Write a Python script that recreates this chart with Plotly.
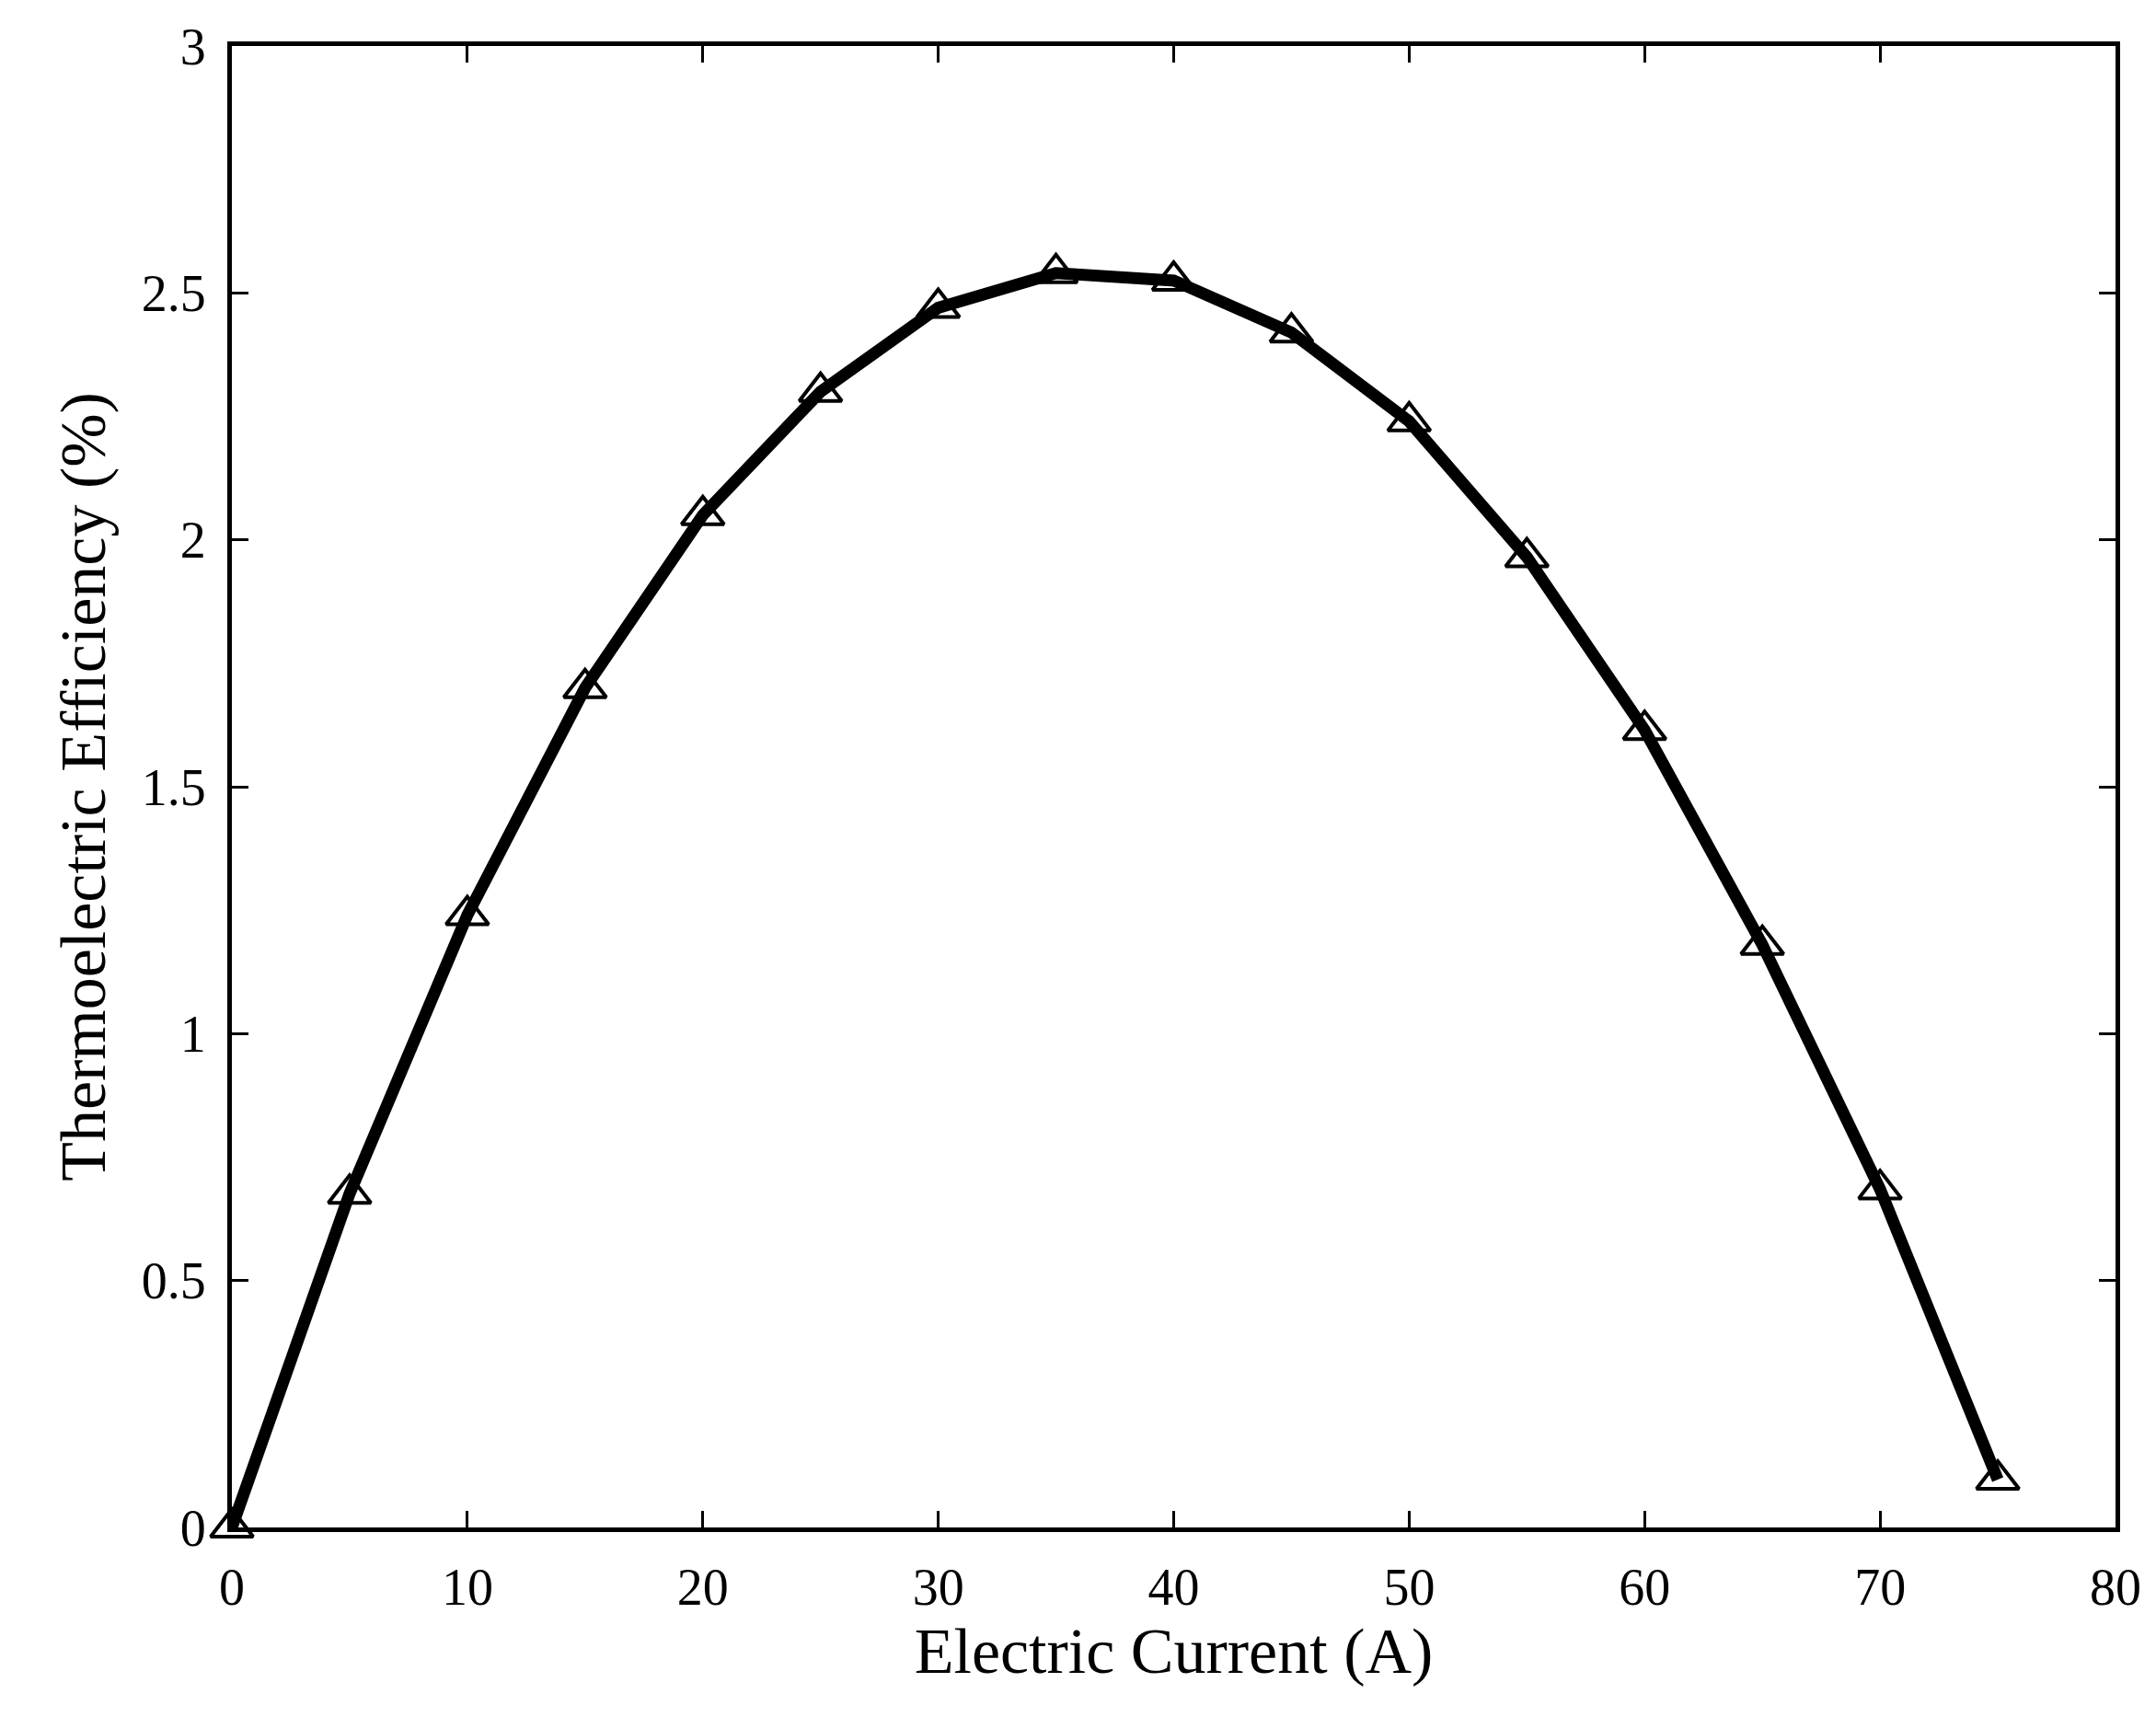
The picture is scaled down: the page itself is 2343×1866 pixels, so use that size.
import plotly.graph_objects as go

current = [0, 5, 10, 15, 20, 25, 30, 35, 40, 45, 50, 55, 60, 65, 70, 75]
efficiency = [0.0, 0.676, 1.24, 1.70, 2.05, 2.30, 2.47, 2.54, 2.525, 2.42, 2.24, 1.965, 1.615, 1.18, 0.685, 0.097]

fig = go.Figure(go.Scatter(
    x=current, y=efficiency, mode="lines+markers",
    line=dict(color="black", width=13),
    marker=dict(symbol="triangle-up-open", size=40, color="black", line=dict(width=4, color="black")),
    cliponaxis=False,
))
font = dict(family="Liberation Serif", color="black")
axis = dict(showline=True, linecolor="black", linewidth=5, mirror="ticks", ticks="inside",
            ticklen=18, tickwidth=3, tickcolor="black", showgrid=False, zeroline=False,
            tickfont=dict(size=56, **font), ticklabelstandoff=12)
fig.update_xaxes(range=[0, 80], dtick=10, title=dict(text="Electric Current (A)", font=dict(size=70, **font), standoff=8), **axis)
fig.update_yaxes(range=[0, 3], dtick=0.5, title=dict(text="Thermoelectric Efficiency (%)", font=dict(size=70, **font), standoff=18), **axis)
fig.update_layout(width=2343, height=1866, plot_bgcolor="white", paper_bgcolor="white",
                  margin=dict(l=244, r=52, t=36, b=214), showlegend=False)
fig.write_html("out.html")
